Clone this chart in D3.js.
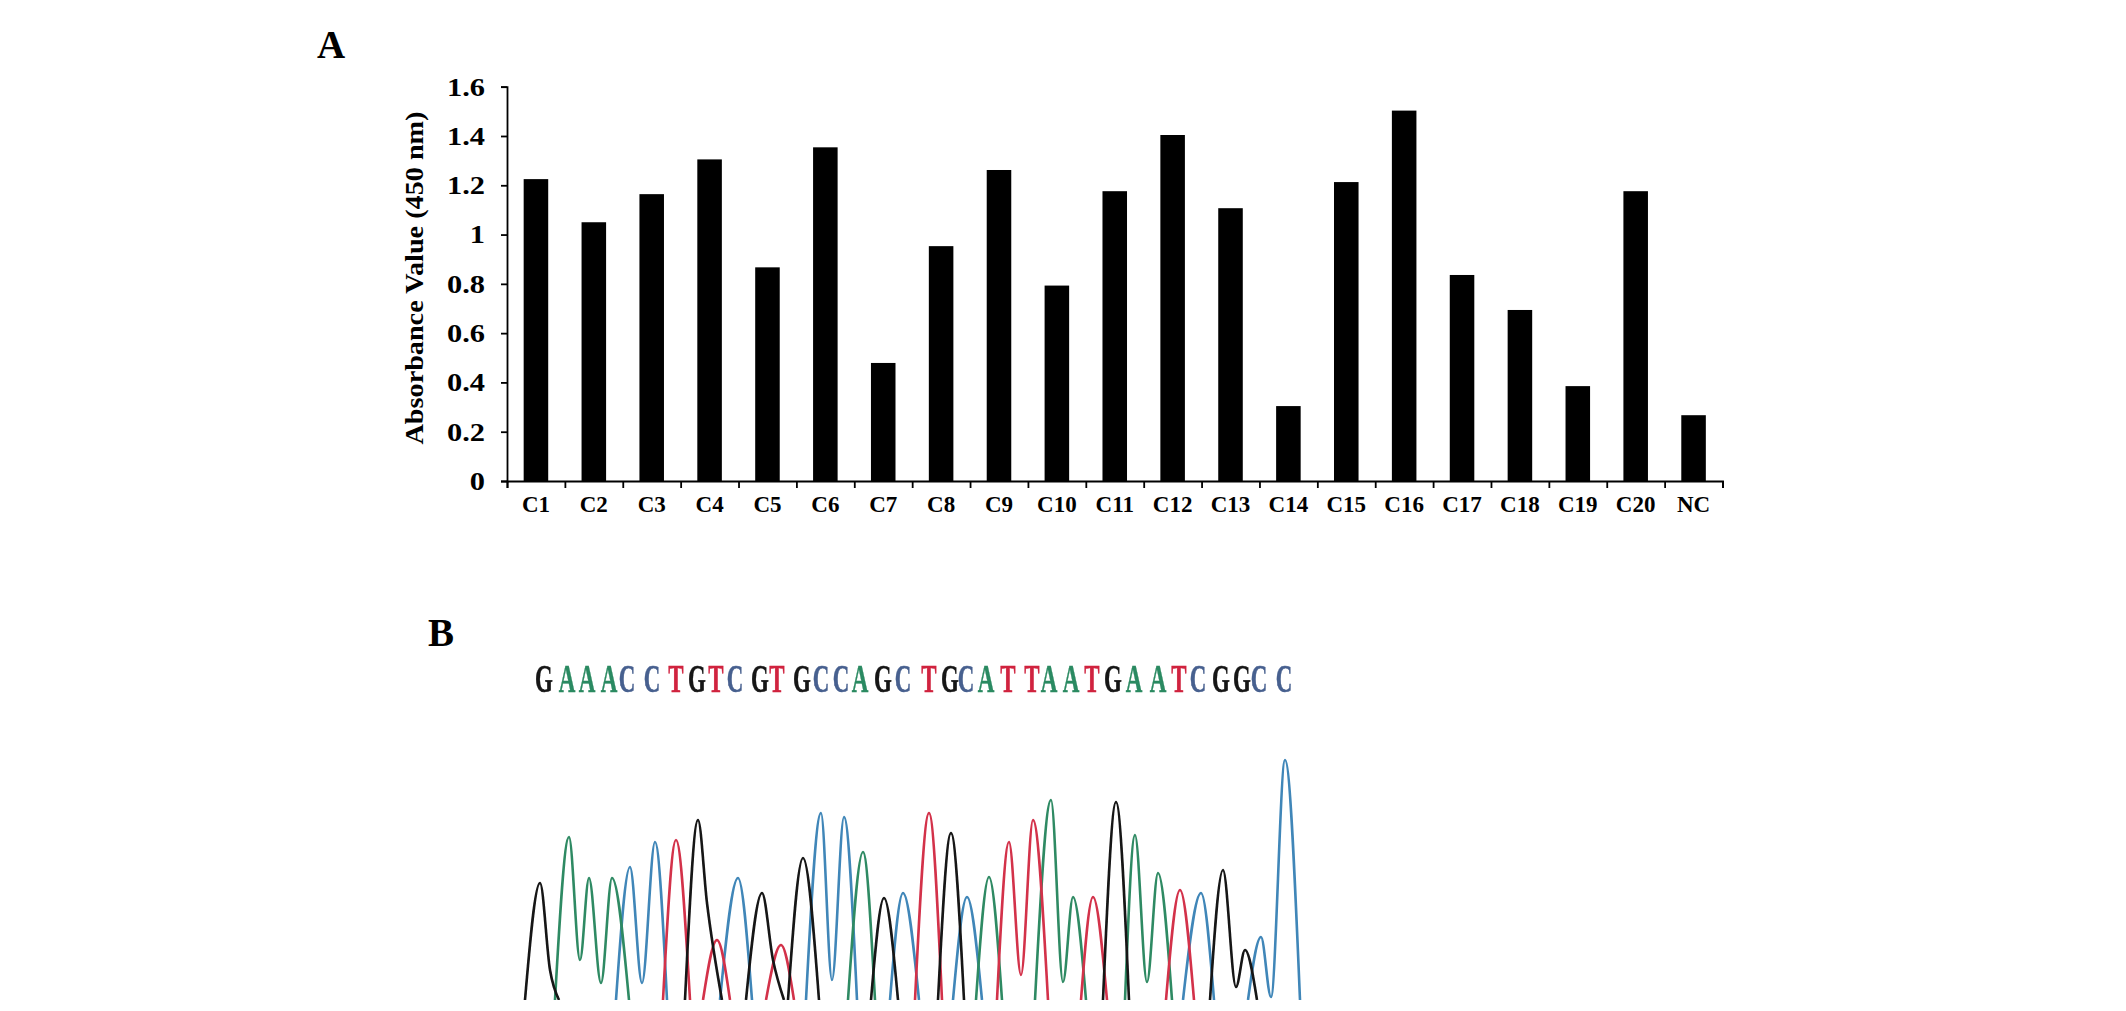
<!DOCTYPE html>
<html><head><meta charset="utf-8">
<script src="https://cdn.jsdelivr.net/npm/d3@7/dist/d3.min.js"></script>
<style>
html,body{margin:0;padding:0;background:#fff}
svg{display:block}
text{font-family:"Liberation Serif",serif;font-weight:bold;fill:#000}
</style></head><body><svg id="c" width="2126" height="1011"></svg>
<script>
const categories=["C1","C2","C3","C4","C5","C6","C7","C8","C9","C10","C11","C12","C13","C14","C15","C16","C17","C18","C19","C20","NC"];
const absorbance=[1.225,1.05,1.164,1.305,0.867,1.354,0.479,0.953,1.262,0.793,1.176,1.404,1.107,0.304,1.213,1.503,0.836,0.694,0.385,1.176,0.267];
const yTicks=[0,0.2,0.4,0.6,0.8,1,1.2,1.4,1.6];
const bases=["G","A","A","A","C","C","T","G","T","C","G","T","G","C","C","A","G","C","T","G","C","A","T","T","A","A","T","G","A","A","T","C","G","G","C","C"];
const basePositions=[24,47,67,89,107,132,156,177,196,215,240,257,282,301,321,340,363,383,409,430,446,466,488,512,529,551,572,593,614,638,659,678,701,722,739,764];
const traceG=[[[5,0],[20,117],[30,30],[39,0]],[[165,0],[178,180],[187,97],[202,0]],[[226,0],[242,107],[253,40],[264,0]],[[268,0],[283,142],[299,0]],[[351,0],[364,102],[378,0]],[[418,0],[431,167],[444,0]],[[583,0],[596,198],[609,0]],[[690,0],[703,130],[716,13],[725,50],[737,0]]];
const traceA=[[[35,0],[49,163],[60,40],[69,122],[81,17],[92,122],[109,0]],[[328,0],[343,148],[355,0]],[[456,0],[469,123],[482,0]],[[515,0],[531,200],[543,18],[553,103],[566,0]],[[605,0],[615,165],[627,18],[638,127],[652,0]]];
const traceC=[[[96,0],[110,133],[122,17],[135,158],[147,0]],[[200,0],[218,122],[232,0]],[[286,0],[301,187],[312,20],[324,183],[337,0]],[[370,0],[383,107],[399,0]],[[433,0],[447,103],[462,0]],[[663,0],[681,107],[694,0]],[[728,0],[741,63],[751,3],[765,240],[780,0]]];
const traceT=[[[143,0],[156,160],[170,0]],[[183,0],[197,60],[210,0]],[[246,0],[261,55],[274,0]],[[395,0],[409,187],[422,0]],[[477,0],[489,158],[501,25],[513,180],[528,0]],[[561,0],[573,103],[587,0]],[[646,0],[660,110],[674,0]]];
const baseColor={G:"#141414",A:"#2c8a62",C:"#47608f",T:"#d0233f"};
const traceColor={G:"#141414",A:"#2f8a63",C:"#3f86b8",T:"#d3304a"};

const svg=d3.select("#c");
const x=d3.scaleBand().domain(categories).range([507,1722.5]).paddingInner(0.576).paddingOuter(0.288);
const y=d3.scaleLinear().domain([0,1.6]).range([481,86.7]);

svg.append("g").selectAll("rect").data(categories).join("rect")
 .attr("x",d=>x(d)).attr("width",x.bandwidth())
 .attr("y",(d,i)=>y(absorbance[i])).attr("height",(d,i)=>y(0)-y(absorbance[i])).attr("fill","#000");

const gy=svg.append("g").attr("transform","translate(507,0)")
 .call(d3.axisLeft(y).tickValues(yTicks).tickFormat(d=>String(d)).tickSize(6));
gy.selectAll("text").style("font-size","26px").attr("x",null).attr("dy","0.32em")
 .attr("transform","translate(-22,0) scale(1.17,1)").attr("text-anchor","end");
const edge=d3.scaleLinear().domain([0,categories.length]).range([507,1722.5]);
const gx=svg.append("g").attr("transform","translate(0,481)")
 .call(d3.axisBottom(edge).ticks(categories.length).tickFormat("").tickSize(7));
const gl=svg.append("g").attr("transform","translate(0,481)")
 .call(d3.axisBottom(x).tickSize(0).tickPadding(15));
gl.select(".domain").remove();
gl.selectAll("text").style("font-size","23px").attr("dy","0.71em");
svg.selectAll(".domain,.tick line").attr("stroke","#000").attr("stroke-width",1.8);

svg.append("text").attr("transform","translate(423,278) rotate(-90)").attr("text-anchor","middle")
 .attr("textLength",333).attr("lengthAdjust","spacingAndGlyphs")
 .style("font-size","25px").text("Absorbance Value (450 nm)");
svg.append("text").attr("x",317).attr("y",58).style("font-size","39px").text("A");
svg.append("text").attr("x",428).attr("y",646).style("font-size","39px").text("B");

const defs=svg.append("defs");
defs.append("filter").attr("id","soft").append("feGaussianBlur").attr("stdDeviation",0.6);
defs.append("clipPath").attr("id","clip").append("rect").attr("x",500).attr("y",600).attr("width",850).attr("height",400);

const seq=svg.append("g").attr("filter","url(#soft)");
seq.selectAll("text").data(bases).join("text")
 .attr("transform",(d,i)=>`translate(${520+basePositions[i]},692) scale(0.56,1)`)
 .attr("text-anchor","middle").style("font-size","41px")
 .style("fill",d=>baseColor[d]).style("stroke",d=>baseColor[d]).style("stroke-width",0.5).text(d=>d);

const sx=d3.scaleLinear().domain([0,800]).range([520,1320]);
const sy=d3.scaleLinear().domain([0,380]).range([1000,620]);
const line=d3.line().x(d=>sx(d[0])).y(d=>sy(d[1])).curve(d3.curveMonotoneX);
const traces=svg.append("g").attr("filter","url(#soft)").attr("clip-path","url(#clip)");
[["C",traceC],["A",traceA],["T",traceT],["G",traceG]].forEach(([b,segs])=>{
 traces.append("g").selectAll("path").data(segs).join("path").attr("d",line)
  .attr("fill","none").attr("stroke",traceColor[b]).attr("stroke-width",2.6);
});
</script></body></html>
